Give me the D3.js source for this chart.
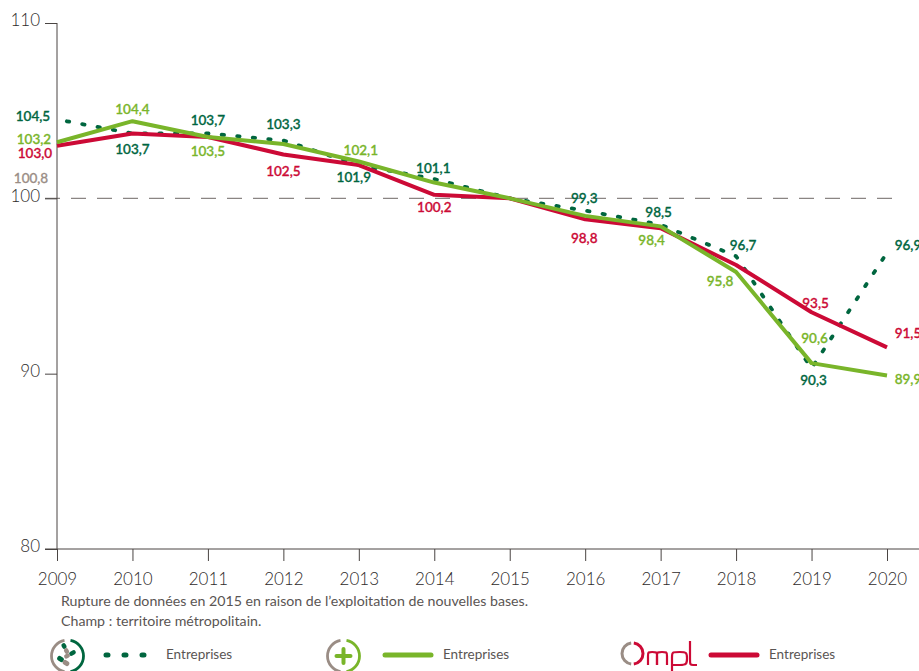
<!DOCTYPE html>
<html><head><meta charset="utf-8">
<script src="https://cdn.jsdelivr.net/npm/d3@7/dist/d3.min.js"></script>
<style>html,body{margin:0;padding:0;background:#fff;overflow:hidden}svg{display:block}text{font-family:Lato,"Open Sans",sans-serif}</style>
</head><body><svg id="c" width="919" height="671"></svg>
<script>
const years=[2009,2010,2011,2012,2013,2014,2015,2016,2017,2018,2019,2020];
const yTicks=[80,90,100,110];
const pharma=[104.5,103.7,103.7,103.3,101.9,101.1,100,99.3,98.5,96.7,90.3,96.9];
const plus=[103.2,104.4,103.5,103.1,102.1,100.9,100,99.0,98.4,95.8,90.6,89.9];
const ompl=[103.0,103.7,103.5,102.5,101.9,100.2,100,98.8,98.3,96.2,93.5,91.5];
const greyLabel=100.8;
const footnotes=["Rupture de données en 2015 en raison de l’exploitation de nouvelles bases.","Champ : territoire métropolitain."];
const legendLabel="Entreprises";
const colors={dark:"#00663f",green:"#79b52a",red:"#cc0a36",grey:"#9a8d85",ink:"#4a4543"};
// label placement: [year index, dx, dy] relative to the data point
const pharmaLabels=[[0,-24,-3],[1,0,16],[2,0,-13],[3,0,-16],[4,-5,12],[5,-1,-11],[7,-1,-12],[8,-2,-12],[9,7,-11],[10,2,12],[11,21,-7]];
const plusLabels=[[0,-23,-3],[1,0,-12],[2,0,14],[4,2,-11],[8,-9,14],[9,-16,9],[10,3,-25],[11,21,4]];
const omplLabels=[[0,-22,8],[3,0,17],[5,0,12],[7,-1,19],[10,4,-9],[11,21,-14]];

const svg=d3.select("#c");
const x=d3.scalePoint().domain(years).range([57,887]);
const y=d3.scaleLinear().domain([80,110]).range([549,23]);
const fmt=v=>d3.format(".1f")(v).replace(".",",");

// reference line at 100
svg.append("line").attr("x1",45).attr("x2",895).attr("y1",y(100)).attr("y2",y(100))
  .attr("stroke","#8a8583").attr("stroke-width",1.1).attr("stroke-dasharray","15 11");

// axes
const xAxis=svg.append("g").attr("transform",`translate(0,${y(80)})`)
  .call(d3.axisBottom(x).tickSize(12).tickPadding(8).tickFormat(d3.format("d")));
xAxis.select(".domain").remove();
svg.append("line").attr("x1",45).attr("x2",919).attr("y1",y(80)).attr("y2",y(80)).attr("stroke",colors.ink).attr("stroke-width",1);
const yAxis=svg.append("g").attr("transform","translate(57,0)")
  .call(d3.axisLeft(y).tickValues(yTicks).tickSize(12).tickPadding(9));
yAxis.select(".domain").remove();
svg.append("line").attr("x1",57).attr("x2",57).attr("y1",y(110)).attr("y2",y(80)).attr("stroke",colors.ink).attr("stroke-width",1);
[xAxis,yAxis].forEach(a=>{a.selectAll("line").attr("stroke",colors.ink);
  a.selectAll("text").attr("fill","#2e2a29").attr("font-size",17).attr("font-weight",300).style("font-family","Lato,sans-serif");});
xAxis.selectAll("text").attr("dy","0.95em");
yAxis.selectAll("text").attr("dx",4).attr("dy","0.16em");

// lines
const line=d3.line().x((d,i)=>x(years[i])).y(d=>y(d));
svg.append("path").datum(pharma).attr("d",line).attr("fill","none").attr("stroke",colors.dark)
  .attr("stroke-width",3.8).attr("stroke-linecap","round").attr("stroke-dasharray","2.4 13.2").attr("stroke-dashoffset",-10);
svg.append("path").datum(ompl).attr("d",line).attr("fill","none").attr("stroke",colors.red).attr("stroke-width",4).attr("stroke-linejoin","round");
svg.append("path").datum(plus).attr("d",line).attr("fill","none").attr("stroke",colors.green).attr("stroke-width",4).attr("stroke-linejoin","round");

// value labels
function labels(series,placement,color){
  svg.append("g").selectAll("text").data(placement).join("text")
    .attr("x",d=>x(years[d[0]])+d[1]).attr("y",d=>y(series[d[0]])+d[2]).attr("dy","0.35em")
    .attr("text-anchor","middle").attr("font-size",13.5).attr("font-weight",500).attr("fill",color)
    .attr("stroke",color).attr("stroke-width",0.35)
    .text(d=>fmt(series[d[0]]));
}
labels(pharma,pharmaLabels,colors.dark);
labels(plus,plusLabels,colors.green);
labels(ompl,omplLabels,colors.red);
svg.append("text").attr("x",31).attr("y",y(greyLabel)-6).attr("dy","0.35em").attr("text-anchor","middle")
  .attr("font-size",13.5).attr("fill",colors.grey).attr("stroke",colors.grey).attr("stroke-width",0.35).text(fmt(greyLabel));

// footnotes
svg.append("g").selectAll("text").data(footnotes).join("text").attr("x",61).attr("y",(d,i)=>606+i*20)
  .attr("font-size",14.2).attr("font-weight",400).attr("fill","#5a5553").text(d=>d);

// legend
const arc=d3.arc();
function ring(cx,cy,col){
  const g=svg.append("g").attr("transform",`translate(${cx},${cy})`);
  g.append("path").attr("d",arc({innerRadius:14.6,outerRadius:17.4,startAngle:Math.PI*1.06,endAngle:Math.PI*1.94})).attr("fill",colors.grey);
  g.append("path").attr("d",arc({innerRadius:14.6,outerRadius:17.4,startAngle:Math.PI*0.06,endAngle:Math.PI*0.94})).attr("fill",col);
  return g;
}
function pill(g,cx,cy,len,w,rot,col){
  g.append("rect").attr("x",-len/2).attr("y",-w/2).attr("width",len).attr("height",w).attr("rx",w/2)
   .attr("transform",`translate(${cx},${cy}) rotate(${rot})`).attr("fill",col);
}
const g1=ring(67.5,656,colors.dark);
pill(g1,-3.5,-10,6,4.5,60,colors.dark);
pill(g1,-1,-5,6,4.5,60,colors.grey);
pill(g1,5,-3,7,4.5,-30,colors.dark);
pill(g1,-0.5,0,6,4.5,-30,colors.grey);
pill(g1,-7,3,7,5,35,colors.dark);
pill(g1,-1.5,7,7,5,35,colors.grey);
const g2=ring(343.5,656,colors.green);
pill(g2,0,0,18,4,0,colors.green);
pill(g2,0,0,18,4,90,colors.green);
// Ompl mark
const g3=svg.append("g").attr("transform","translate(632.5,653.5)");
g3.append("path").attr("d",arc({innerRadius:9,outerRadius:12,startAngle:Math.PI*1.04,endAngle:Math.PI*1.96})).attr("fill",colors.grey);
g3.append("path").attr("d",arc({innerRadius:9,outerRadius:12,startAngle:Math.PI*0.04,endAngle:Math.PI*0.96})).attr("fill",colors.red);
const logo=svg.append("g").attr("fill","none").attr("stroke",colors.red).attr("stroke-width",2.2);
logo.append("path").attr("d",d3.line().curve(d3.curveBasis)([[648,665],[648,655],[648,652],[652,652],[657,652],[657,655],[657,665]]));
logo.append("path").attr("d",d3.line().curve(d3.curveBasis)([[657,665],[657,655],[657,652],[662,652],[667,652],[667,655],[667,665]]));
logo.append("path").attr("d",d3.line().curve(d3.curveBasis)([[672,671],[672,655],[672,652],[680,652],[687,652],[687,658],[687,665],[680,665],[672,665]]));
logo.append("path").attr("d",d3.line().curve(d3.curveBasis)([[690,641],[690,660],[690,665],[693,665],[697,665]]));

const legend=[{x1:106,x2:146,col:colors.dark,dash:true,tx:166},{x1:385,x2:431,col:colors.green,tx:443},{x1:711,x2:757,col:colors.red,tx:769}];
legend.forEach(d=>{
  svg.append("line").attr("x1",d.x1).attr("x2",d.x2).attr("y1",655).attr("y2",655)
    .attr("stroke",d.col).attr("stroke-width",5).attr("stroke-linecap","round")
    .attr("stroke-dasharray",d.dash?"2 16":null);
  svg.append("text").attr("x",d.tx).attr("y",659).attr("font-size",13.5).attr("fill","#5a5553").text(legendLabel);
});
</script></body></html>
